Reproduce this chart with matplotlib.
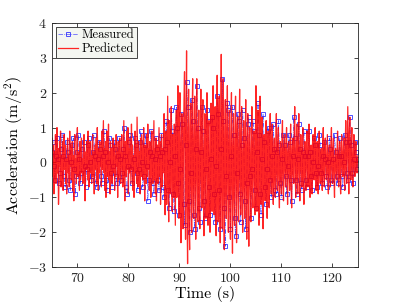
import numpy as np
import matplotlib
matplotlib.use('Agg')
import matplotlib.pyplot as plt

# predicted acceleration (m/s^2), one sample every 0.1 s from 65 s
pred_t0, pred_dt = 65.0, 0.1
predicted = [
    0.2, 0.7, -0.4, 0.5, -0.9, 0.3, -0.2, 0.8, -0.6, 0.1, 1.0, -0.3, 0.4, -1.2, -0.5, 0.6, -0.1, 0.9, -0.7, 0.2,
    -0.4, 0.6, -0.8, 0.3, 0.8, -0.2, 0.5, -0.6, 0.1, -0.9, 0.4, 0.7, -0.3, 0.2, -0.7, 0.9, -0.1, 0.5, -0.5, 0.3,
    0.6, -0.8, 0.2, -1.1, 0.4, 0.8, -0.3, 0.1, -0.6, 0.5, 1.0, -0.4, 0.3, -0.2, -0.8, 0.6, -0.5, 0.2, 0.7, -0.3,
    0.1, -0.6, 0.5, 0.8, -0.4, -1.1, 0.3, -0.2, 0.6, 0.2, -0.5, 0.9, -0.1, -0.7, 0.4, 0.6, -0.3, 0.2, -0.6, 0.5,
    0.8, -0.4, 0.3, -0.9, 0.1, 0.5, -0.2, 0.7, -0.6, 1.0, 0.2, -0.8, 0.4, -0.3, 0.6, -0.1, 0.3, -0.7, 0.9, -0.2,
    0.5, 1.2, -0.3, 0.4, -0.8, 0.6, -1.0, 0.2, 0.9, -0.4, 0.1, 1.1, -0.5, 0.3, -0.9, 0.6, -0.2, 0.4, -0.6, 0.2,
    0.7, -0.3, 0.5, -0.8, 0.2, -0.4, 0.8, -0.1, 0.3, -1.0, 0.6, -0.5, 0.2, 0.7, -0.3, -0.6, 0.4, 0.8, -0.2, -0.7,
    0.3, 1.2, -0.5, -1.1, 0.6, 0.2, -0.4, 0.9, -0.2, 1.0, -0.9, 0.4, -0.3, 0.7, 0.1, -0.6, 1.1, -0.2, 0.5, -0.8,
    0.2, -1.0, 0.4, 0.9, -0.3, 0.5, -0.6, 1.3, 0.2, -0.7, 0.6, -0.2, 0.3, -0.9, 0.7, -0.4, 0.8, 0.1, -0.5, 0.4,
    1.0, -0.3, -1.1, 0.5, 0.2, -0.6, 0.8, -0.4, 1.1, -0.2, 0.4, -0.8, 0.6, 0.1, -1.0, 0.5, 0.9, -0.3, -0.6, 0.3,
    1.2, -0.5, 0.4, -0.9, 0.7, -1.1, 0.3, 0.5, -0.6, 0.2, 1.0, -0.4, 0.6, -1.2, 0.1, 0.8, -0.7, 0.4, -0.3, 0.9,
    1.4, -0.8, -1.5, 0.6, 0.9, -1.2, 0.4, 1.9, -0.6, -1.7, 1.2, 0.3, -0.9, 0.7, 1.6, -0.5, -1.4, 0.8, 0.2, -1.0,
    1.1, -0.4, -1.8, 0.9, 1.5, -1.0, 0.3, 2.2, -0.7, -1.6, 1.2, 2.0, -0.8, -2.3, 0.6, 1.4, -1.1, -1.9, 0.5, 1.8,
    2.6, -0.9, -2.2, 1.3, 3.2, -1.4, -2.9, 0.8, 2.1, -1.8, -2.5, 1.0, 1.7, -0.6, -2.0, 1.5, 2.4, -1.2, -1.6, 0.7,
    1.9, -0.8, -2.2, 1.1, 2.4, -0.5, -1.7, 0.9, 1.5, -1.3, -1.9, 0.6, 2.1, -0.4, -1.3, 1.2, 1.8, -0.9, -2.1, 0.3,
    1.4, -0.7, -1.6, 0.8, 2.0, -0.3, -1.8, 1.0, 1.2, -1.1, -2.0, 0.5, 1.7, -0.6, -1.4, 0.9, 2.2, -0.8, -1.5, 0.4,
    1.6, -1.0, -2.1, 0.7, 2.5, -0.5, -1.7, 1.1, 1.9, -0.8, -2.3, 0.9, 3.1, -0.4, -1.9, 1.3, 2.4, -1.2, -2.5, 0.6,
    1.8, -0.7, -1.6, 1.0, 2.2, -0.9, -2.0, 0.5, 1.5, -1.2, -2.2, 0.8, 2.0, -0.6, -2.6, 0.4, 1.4, -1.0, -1.8, 0.7,
    1.9, -0.5, -2.3, 1.1, 1.3, -0.8, -1.7, 0.6, 2.1, -0.4, -1.5, 0.9, 1.6, -1.1, -2.0, 0.3, 1.2, -0.7, -1.6, 0.8,
    1.8, -0.9, -2.2, 0.5, 1.4, -1.0, -2.4, 0.7, 1.0, -0.6, -1.7, 0.4, 1.6, -0.8, -1.3, 0.6, 0.9, -0.5, -1.5, 0.8,
    2.2, -0.6, -1.4, 1.0, 1.5, -0.9, -1.8, 0.7, 1.9, -0.4, -1.2, 0.8, 1.3, -1.0, -1.9, 0.5, 0.8, -0.3, -1.1, 0.6,
    1.2, -0.5, -1.6, 0.4, 0.9, -0.7, -1.3, 0.8, 1.4, -0.2, -0.9, 0.5, 1.1, -0.6, -1.2, 0.3, 0.7, -0.4, -1.0, 0.6,
    1.4, -0.3, -0.8, 0.5, 1.0, -0.6, -1.3, 0.2, 0.6, -0.4, -0.9, 0.7, 1.2, -0.5, -1.1, 0.4, 0.8, -0.2, -0.7, 0.5,
    1.0, -0.4, -1.2, 0.3, 0.6, -0.2, -0.8, 0.5, 1.1, -0.7, -1.3, 0.4, 0.7, -0.3, -0.6, 0.9, 1.6, -0.4, -1.0, 0.2,
    1.1, -0.5, -0.9, 0.6, 1.4, -0.3, -1.1, 0.4, 0.8, -0.2, -0.7, 0.5, 1.0, -0.6, -1.2, 0.3, 0.6, -0.4, -0.8, 0.5,
    0.9, -0.2, -0.7, 0.4, 1.1, -0.5, -1.0, 0.2, 0.5, -0.3, -0.9, 0.6, 0.8, -0.1, -0.5, 0.4, 1.0, -0.4, -0.8, 0.3,
    0.6, -0.5, -0.9, 0.3, 0.9, -0.2, -0.6, 0.1, 0.4, -0.4, -0.8, 0.6, 1.0, -0.3, -0.7, 0.5, 0.7, -0.1, -0.5, 0.2,
    0.8, -0.4, -0.9, 0.2, 0.5, -0.3, -0.7, 0.6, 1.0, -0.2, -0.6, 0.4, 0.7, -0.5, -1.0, 0.1, 0.4, -0.2, -0.5, 0.3,
    0.9, -0.3, -0.7, 0.2, 0.6, -0.5, -0.9, 0.4, 0.8, -0.1, -0.4, 0.3, 0.7, -0.4, -0.8, 0.5, 1.2, -0.2, -0.6, 0.4,
    1.6, 0.3, -0.9, 0.8, 1.3, -0.2, -0.5, 0.6, 1.0, -0.3, -0.7, 0.2, 0.8, -0.1, -0.4, 0.3, 0.6, -0.2, -0.3, 0.1,
    0.2,
]

# measured acceleration (m/s^2), one sample every 0.2 s from 65 s
meas_t0, meas_dt = 65.0, 0.2
measured = [
    0.3, 0.6, -0.1, -0.5, 0.2, 0.7, 0.1, -0.6, -0.3, 0.4,
    0.8, 0.2, -0.4, -0.7, 0.1, 0.6, 0.3, -0.5, -0.8, 0.0,
    0.5, 0.7, -0.2, -0.9, -0.4, 0.3, 0.8, 0.1, -0.6, -0.3,
    0.4, 0.6, -0.1, -0.7, -0.2, 0.5, 0.7, 0.0, -0.5, -0.4,
    0.3, 0.8, 0.2, -0.6, -0.7, 0.1, 0.6, 0.4, -0.4, -0.6,
    0.2, 0.9, 0.3, -0.5, -0.8, 0.0, 0.7, 0.5, -0.3, -0.7,
    -0.1, 0.6, 0.4, -0.4, -0.6, 0.2, 0.7, 0.1, -0.5, -0.3,
    0.4, 1.0, 0.2, -0.7, -0.9, -0.1, 0.6, 0.8, -0.2, -0.6,
    0.1, 0.7, 0.5, -0.3, -0.8, -0.2, 0.6, 0.9, 0.0, -0.7,
    -0.4, 0.5, 0.8, -0.1, -1.1, -0.5, 0.3, 0.9, 0.2, -0.6,
    -0.9, 0.1, 0.7, 0.4, -0.5, -0.8, 0.2, 0.8, 0.3, -0.7,
    -1.0, 0.4, 1.2, 0.6, -0.8, -1.3, 0.0, 1.5, 0.9, -0.9,
    -1.4, 0.2, 1.6, 1.0, -0.6, -1.5, -0.2, 1.4, 1.1, -1.2,
    -1.8, 0.5, 2.3, 1.6, -1.1, -2.0, -0.3, 1.8, 1.2, -1.5,
    -1.9, 0.4, 2.2, 1.0, -1.3, -1.7, 0.3, 1.6, 0.9, -1.1,
    -1.6, -0.2, 1.5, 1.2, -0.7, -1.5, 0.1, 1.3, 1.0, -0.9,
    -1.7, -0.1, 1.9, 1.4, -0.8, -1.9, 0.4, 2.4, 1.2, -1.3,
    -2.4, -0.4, 1.7, 1.5, -1.0, -1.9, 0.2, 1.6, 0.8, -1.6,
    -2.1, -0.3, 1.4, 1.2, -0.9, -1.7, 0.5, 1.5, 0.7, -1.1,
    -1.9, -0.6, 1.1, 1.3, -0.4, -1.6, -0.2, 1.2, 0.9, -0.8,
    -1.3, 0.3, 1.7, 0.8, -0.9, -1.5, 0.1, 1.4, 0.6, -0.7,
    -1.2, -0.2, 0.9, 1.0, -0.5, -1.0, 0.2, 1.1, 0.4, -0.8,
    -0.9, 0.3, 1.2, 0.5, -0.6, -1.0, 0.1, 0.8, 0.5, -0.4,
    -0.9, -0.1, 0.8, 0.6, -0.5, -1.1, 0.2, 1.3, 0.7, -0.5,
    -0.9, 0.1, 1.1, 0.4, -0.6, -0.8, 0.3, 0.9, 0.2, -0.5,
    -0.7, 0.2, 0.9, 0.3, -0.4, -0.8, 0.0, 0.7, 0.5, -0.3,
    -0.7, -0.1, 0.8, 0.5, -0.3, -0.6, 0.2, 0.6, 0.1, -0.4,
    -0.7, 0.0, 0.7, 0.4, -0.5, -0.6, 0.1, 0.8, 0.3, -0.4,
    -0.6, 0.2, 0.7, 0.2, -0.4, -0.7, 0.0, 0.8, 0.6, -0.3,
    -0.5, 0.6, 1.3, 0.5, -0.3, -0.6, 0.1, 0.6, 0.3, -0.2,
    0.1,
]

x_ticks = [70, 80, 90, 100, 110, 120]
y_ticks = [-3, -2, -1, 0, 1, 2, 3, 4]

plt.rcParams['font.family'] = 'serif'
plt.rcParams['font.serif'] = ['cmr10']
plt.rcParams['mathtext.fontset'] = 'cm'
plt.rcParams['axes.formatter.use_mathtext'] = True

t_pred = pred_t0 + pred_dt * np.arange(len(predicted))
t_meas = meas_t0 + meas_dt * np.arange(len(measured))

fig = plt.figure(figsize=(3.96, 3.06), dpi=100)
ax = fig.add_axes([0.131, 0.127, 0.773, 0.798])

ax.plot(t_meas, measured, color='#2222ff', linestyle='-.', linewidth=0.5,
        marker='s', markersize=2.8, markerfacecolor='none', markeredgewidth=0.7,
        alpha=0.8, label='Measured')
ax.plot(t_pred, predicted, color='red', linewidth=0.9, alpha=0.85, label='Predicted')

ax.set_xlim(65, 125)
ax.set_ylim(-3, 4)
ax.set_xticks(x_ticks)
ax.set_yticks(y_ticks)
ax.tick_params(direction='in', top=True, right=True, labelsize=10, length=3,
               width=0.6, colors='#262626')
for s in ax.spines.values():
    s.set_linewidth(0.6)
    s.set_color('#262626')

ax.set_xlabel('Time (s)', fontsize=11.5, labelpad=1)
ax.set_ylabel(r'Acceleration (m/s$^2$)', fontsize=11.5, labelpad=2)

leg = ax.legend(loc='upper left', fontsize=9, fancybox=False, framealpha=1,
                facecolor='#f4f6f1', edgecolor='#262626', handlelength=1.6,
                borderpad=0.2, labelspacing=0.15, handletextpad=0.3,
                borderaxespad=0.3)
leg.get_frame().set_linewidth(0.6)

fig.savefig('out.png', dpi=100)
